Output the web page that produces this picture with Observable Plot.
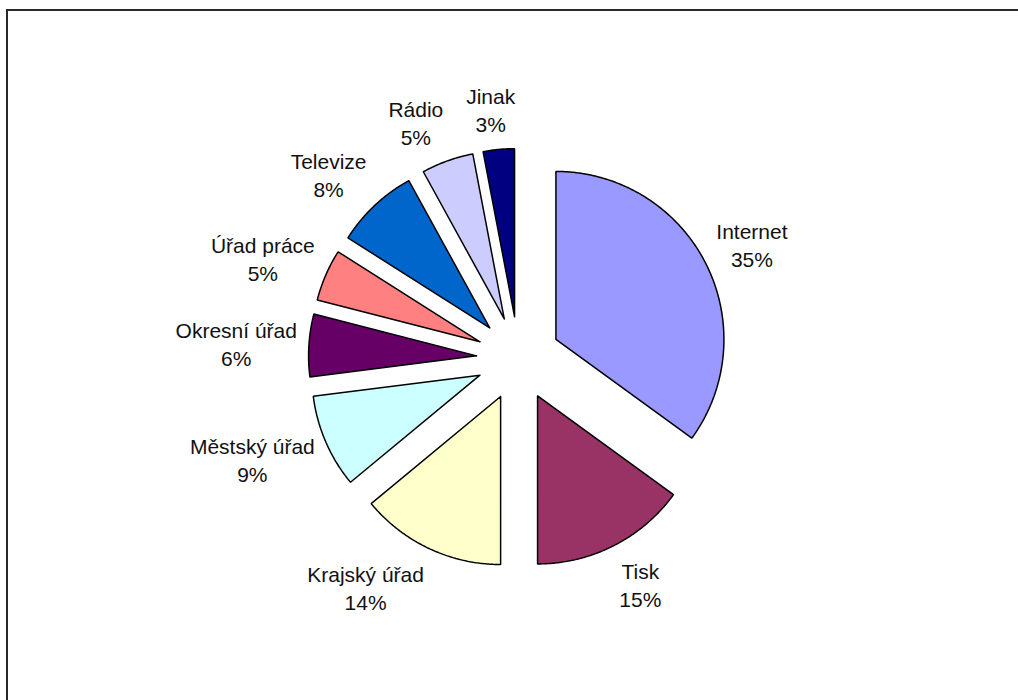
<!DOCTYPE html>
<html>
<head>
<meta charset="utf-8">
<script src="https://cdn.jsdelivr.net/npm/d3@7"></script>
<script src="https://cdn.jsdelivr.net/npm/@observablehq/plot@0.6"></script>
<style>
  html, body { margin: 0; padding: 0; background: #fff; overflow: hidden; }
  #wrap { position: relative; width: 1018px; height: 700px; overflow: hidden; }
  #frame { position: absolute; left: 6px; top: 9px; width: 1100px; height: 800px; border: 2px solid #2a2a2a; box-sizing: border-box; }
  #chart { position: absolute; left: 0; top: 0; }
</style>
</head>
<body>
<div id="wrap"><div id="frame"></div><div id="chart"></div></div>
<script>
// ---- data ----
const categories = ["Internet", "Tisk", "Krajský úřad", "Městský úřad", "Okresní úřad", "Úřad práce", "Televize", "Rádio", "Jinak"];
const shares = [35, 15, 14, 9, 6, 5, 8, 5, 3];
const colors = ["#9999FF", "#993366", "#FFFFCC", "#CCFFFF", "#660066", "#FF8080", "#0066CC", "#CCCCFF", "#000080"];

// ---- layout ----
const W = 1018, H = 700;
const cx = 518, cy = 358;      // pie centre
const R = 168;                 // slice radius
const explode = 42;            // explosion offset
const labelR = 222;            // label anchor radius
const fontSize = 21, lineH = 28;
const font = `${fontSize}px "Liberation Sans", Arial, sans-serif`;

const ctx = document.createElement("canvas").getContext("2d");
ctx.font = font;

const arcs = d3.pie().sort(null).value(d => d)(shares);

const outline = [];
const labels = [];
arcs.forEach((a, i) => {
  const mid = (a.startAngle + a.endAngle) / 2;
  const ox = explode * Math.sin(mid), oy = -explode * Math.cos(mid);
  const pts = [[ox, oy]];
  const n = Math.max(2, Math.ceil((a.endAngle - a.startAngle) / (Math.PI / 360)));
  for (let k = 0; k <= n; k++) {
    const t = a.startAngle + (a.endAngle - a.startAngle) * k / n;
    pts.push([ox + R * Math.sin(t), oy - R * Math.cos(t)]);
  }
  pts.push([ox, oy]);
  pts.forEach(([x, y]) => outline.push({name: categories[i], color: colors[i], x, y}));

  const sx = Math.sin(mid), sy = -Math.cos(mid);
  const text = `${categories[i]}\n${shares[i]}%`;
  const w = Math.max(ctx.measureText(categories[i]).width, ctx.measureText(`${shares[i]}%`).width);
  const clamp = v => Math.max(-1, Math.min(1, v));
  labels.push({
    text,
    x: labelR * sx + clamp(3 * sx) * w / 2,
    y: labelR * sy + clamp(1.1 * sy) * lineH
  });
});

const chart = Plot.plot({
  width: W,
  height: H,
  margin: 0,
  x: {domain: [-cx, W - cx], range: [0, W], axis: null},
  y: {domain: [-cy, H - cy], range: [0, H], axis: null},
  color: {type: "identity"},
  style: {fontFamily: '"Liberation Sans", Arial, sans-serif', background: "transparent"},
  marks: [
    Plot.line(outline, {x: "x", y: "y", z: "name", fill: "color", stroke: "#000", strokeWidth: 1.5, strokeLinejoin: "miter", curve: "linear"}),
    Plot.text(labels, {x: "x", y: "y", text: "text", fontSize, lineHeight: lineH / fontSize, textAnchor: "middle", lineAnchor: "middle", fill: "#111", fontFamily: '"Liberation Sans", Arial, sans-serif'})
  ]
});
document.getElementById("chart").appendChild(chart);
</script>
</body>
</html>
